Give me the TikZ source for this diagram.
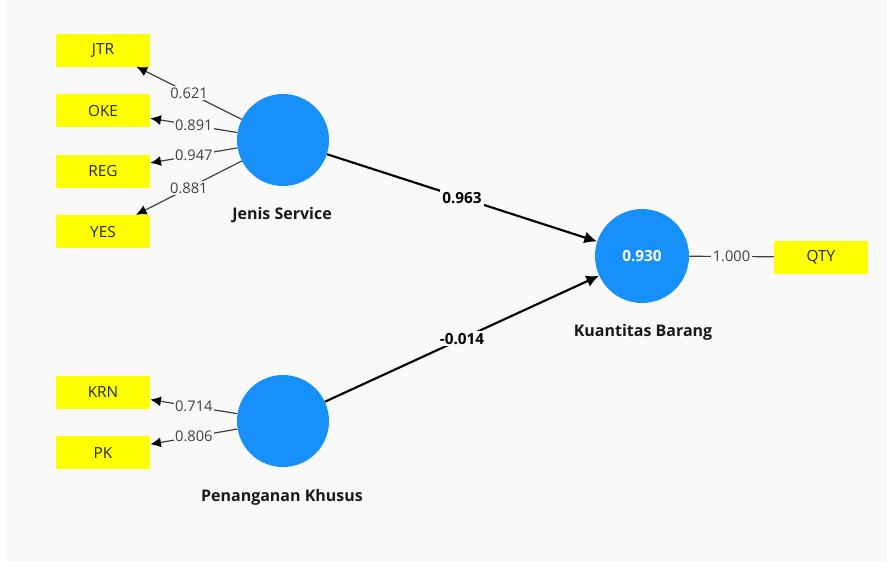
\documentclass[tikz,border=0pt]{standalone}
\usepackage{fontspec}
\setmainfont{Open Sans}
\usetikzlibrary{positioning}
\usetikzlibrary{arrows.meta}
\definecolor{pagebg}{RGB}{249,249,249}
\definecolor{lvblue}{RGB}{24,144,250}
\definecolor{mvyellow}{RGB}{255,255,0}

\begin{document}
\begin{tikzpicture}[x=0.75pt,y=-0.75pt]
  \tikzstyle{mbox}=[fill=mvyellow,minimum width=70.5pt,minimum height=24.75pt,inner sep=0pt,text=black!85,font=\fontsize{11.5}{12}\selectfont]
  \tikzstyle{lcircle}=[circle,fill=lvblue,minimum size=69pt,inner sep=0pt,text=white,font=\bfseries\fontsize{11.5}{12}\selectfont]
  \tikzstyle{lname}=[text=black!90,font=\bfseries\fontsize{12}{12}\selectfont]
  \tikzstyle{wlabel}=[fill=pagebg,inner sep=1pt,text=black!75,font=\fontsize{11}{12}\selectfont]
  \tikzstyle{blabel}=[fill=pagebg,inner sep=1.5pt,text=black,font=\bfseries\fontsize{11.5}{12}\selectfont]
  \tikzstyle{loadline}=[draw,black!75,line width=0.9pt]
  \tikzstyle{loadarrow}=[loadline,-{Latex[length=8pt,width=7.5pt,black]}]
  \tikzstyle{pathline}=[draw,black,line width=1.6pt,-{Latex[length=9.5pt,width=9pt]}]
  \def\boxsep{20.25pt}

  % page
  \fill[white] (0,0) rectangle (887,562);
  \fill[pagebg] (5,0) rectangle (887,562);
  \useasboundingbox (0,0) rectangle (887,562);

  % latent variables
  \node [lcircle] (js) at (283,140) {};
  \node [lcircle] (pk) at (283,421) {};
  \node [lcircle,minimum size=70.5pt] (kb) at (642,256) {0.930};
  \node [lname] (js-name) at (282,215) {Jenis Service};
  \node [lname] (pk-name) at (282,497) {Penanganan Khusus};
  \node [lname] (kb-name) at (643,332) {Kuantitas Barang};

  % indicators
  \node [mbox] (jtr) at (103,50) {JTR};
  \node [mbox,below=\boxsep of jtr] (oke) {OKE};
  \node [mbox,below=\boxsep of oke] (reg) {REG};
  \node [mbox,below=\boxsep of reg] (yes) {YES};
  \node [mbox] (krn) at (103,392) {KRN};
  \node [mbox,below=\boxsep of krn] (pkb) {PK};
  \node [mbox] (qty) at (821,257) {QTY};

  % outer loadings
  \path [loadarrow] (js) -- node[wlabel] {0.621} (jtr);
  \path [loadarrow] (js) -- node[wlabel] {0.891} (oke);
  \path [loadarrow] (js) -- node[wlabel] {0.947} (reg);
  \path [loadarrow] (js) -- node[wlabel] {0.881} (yes);
  \path [loadarrow] (pk) -- node[wlabel] {0.714} (krn);
  \path [loadarrow] (pk) -- node[wlabel] {0.806} (pkb);
  \path [loadline] (kb) -- node[wlabel] {1.000} (qty);

  % path coefficients
  \path [pathline] (js) -- node[blabel] {0.963} (kb);
  \path [pathline] (pk) -- node[blabel] {-0.014} (kb);
\end{tikzpicture}
\end{document}
